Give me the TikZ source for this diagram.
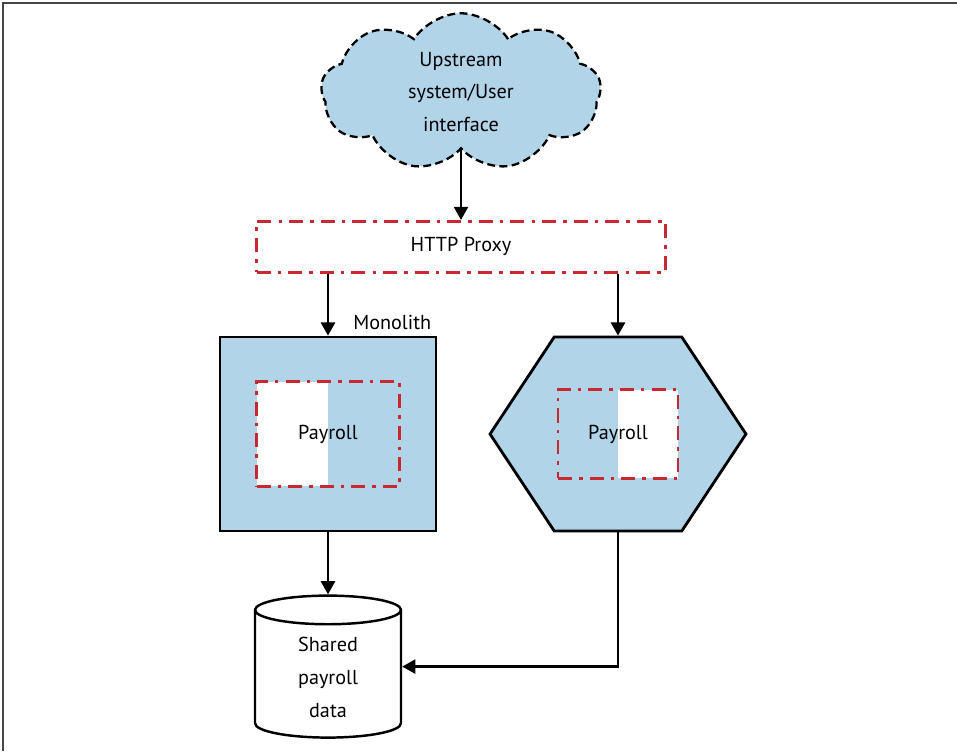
\documentclass[tikz,border=0pt]{standalone}
\usepackage{fontspec}
\setmainfont{PT Sans}
\usetikzlibrary{arrows.meta,positioning,shapes.geometric,shapes.symbols}
\definecolor{boxblue}{RGB}{178,212,233}
\definecolor{proxyred}{RGB}{200,40,48}
\definecolor{framegray}{RGB}{70,70,70}

\begin{document}
\begin{tikzpicture}[
  x=0.02cm, y=-0.02cm,
  lbl/.style={font=\fontsize{11.5}{18.7}\selectfont, align=center},
  dashdot/.style={draw=proxyred, line width=1.5pt,
                  dash pattern=on 8pt off 4pt on 2pt off 4pt},
  blk/.style={draw, line width=1.6pt, fill=boxblue},
  arr/.style={-{Triangle[length=7.5pt,width=8pt]}, line width=1.4pt},
  whiteleft/.style={path picture={\fill[white] (path picture bounding box.south west)
                    rectangle (path picture bounding box.north);}},
  whiteright/.style={path picture={\fill[white] (path picture bounding box.north)
                    rectangle (path picture bounding box.south east);}},
  node distance=1.2cm
]
\useasboundingbox (0,0) rectangle (957,751);
\draw[framegray, line width=1.2pt] (3,751) -- (3,3) -- (957,3);

% upstream and proxy
\node[cloud, draw, dash pattern=on 4.5pt off 2.5pt, line width=1.3pt,
      fill=boxblue, cloud puffs=9, cloud puff arc=115, aspect=1.8,
      minimum width=5.6cm, minimum height=3.15cm, inner sep=0pt, lbl]
      (cloud) at (461,92) {Upstream\\system/User\\interface};
\node[dashdot, lbl, minimum width=8.18cm, minimum height=1.02cm,
      below=1.4cm of cloud] (proxy) {HTTP Proxy};

% monolith and service
\node[blk, minimum width=4.32cm, minimum height=3.88cm] (mono) at (328,434) {};
\node[lbl, above left=0pt and 0pt of mono.north east] (monolbl) {Monolith};
\node[blk, signal, signal to=west and east, signal pointer angle=113,
      minimum width=5.12cm, minimum height=3.88cm] (hex) at (618,434) {};
\node[dashdot, lbl, whiteleft, minimum width=2.86cm, minimum height=2.1cm]
      (paymono) at (mono.center) {Payroll};
\node[dashdot, lbl, whiteright, minimum width=2.4cm, minimum height=1.78cm]
      (payhex) at (hex.center) {Payroll};

% data
\node[cylinder, draw, shape border rotate=90, aspect=0.4, line width=1.4pt,
      fill=white, minimum width=2.92cm, minimum height=2.84cm, lbl,
      below=1.24cm of mono] (db) {Shared\\payroll\\data};

\draw[arr] (cloud.south) -- (proxy.north);
\draw[arr] (proxy.south -| mono.north) -- (mono.north);
\draw[arr] (proxy.south -| hex.north) -- (hex.north);
\draw[arr] (mono) -- (db);
\draw[arr] (hex.south) |- (db.shape center -| db.east);
\end{tikzpicture}
\end{document}
